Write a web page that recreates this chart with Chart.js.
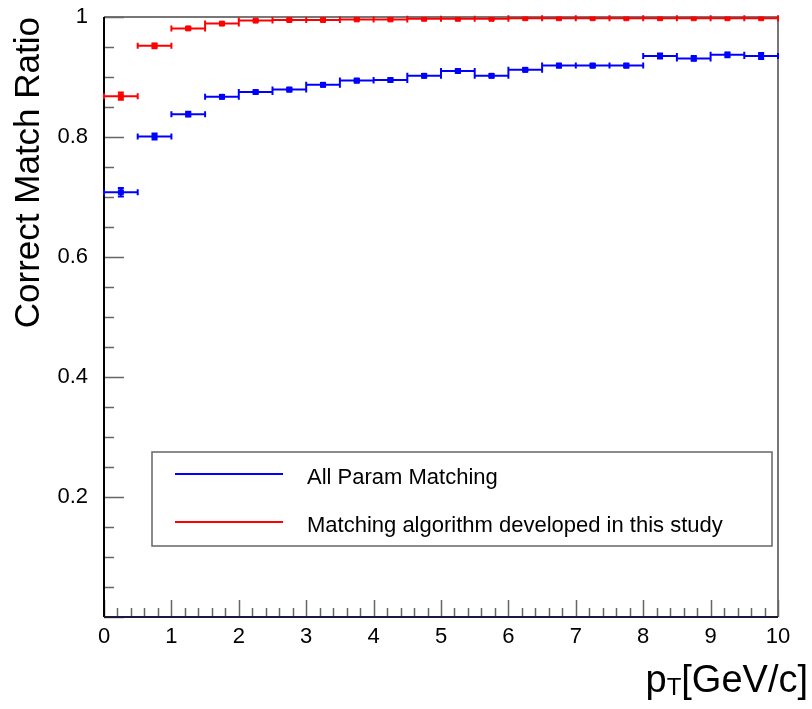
<!DOCTYPE html>
<html>
<head>
<meta charset="utf-8">
<script src="https://cdn.jsdelivr.net/npm/chart.js@4"></script>
<style>
  html, body { margin: 0; padding: 0; background: #fff; }
  canvas { display: block; }
</style>
</head>
<body>
<canvas id="c" width="812" height="709"></canvas>
<script>

// pT bins, GeV/c
const binEdges = [0, 0.5, 1, 1.5, 2, 2.5, 3, 3.5, 4, 4.5, 5, 5.5, 6, 6.5, 7, 7.5, 8, 8.5, 9, 9.5, 10];

const allParamRatio = [0.708, 0.801, 0.838, 0.867, 0.875, 0.879, 0.887, 0.894, 0.895, 0.902,
                       0.910, 0.902, 0.912, 0.919, 0.919, 0.919, 0.935, 0.931, 0.937, 0.935];
const allParamErr   = [0.007, 0.005, 0.004, 0.003, 0.003, 0.003, 0.003, 0.003, 0.003, 0.003,
                       0.003, 0.003, 0.003, 0.003, 0.003, 0.003, 0.004, 0.004, 0.004, 0.005];

const studyRatio = [0.868, 0.952, 0.981, 0.989, 0.994, 0.995, 0.995, 0.996, 0.996, 0.997,
                    0.997, 0.997, 0.998, 0.998, 0.998, 0.998, 0.998, 0.998, 0.998, 0.998];
const studyErr   = [0.006, 0.004, 0.002, 0.002, 0.001, 0.001, 0.001, 0.001, 0.001, 0.001,
                    0.001, 0.001, 0.001, 0.001, 0.001, 0.001, 0.001, 0.001, 0.001, 0.001];

const seriesLabels = ['All Param Matching', 'Matching algorithm developed in this study'];

const xTicks = [0, 1, 2, 3, 4, 5, 6, 7, 8, 9, 10];
const yTicks = [0, 0.2, 0.4, 0.6, 0.8, 1];

const FONT = "'Liberation Sans', Arial, Helvetica, sans-serif";


function binPoints(values){
    let pts = [];
    for(let i=0; i<values.length; i++){
        pts.push({x: (binEdges[i] + binEdges[i+1]) / 2, y: values[i]});
    }
    return pts;
}


// ROOT-like frame, inward ticks, error bars and legend
const rootStyle = {
    id: 'rootStyle',

    beforeDatasetsDraw(chart){
        const {ctx, chartArea: a, scales: {x, y}} = chart;
        ctx.save();

        // top + right frame
        ctx.strokeStyle = '#777';
        ctx.lineWidth = 2;
        ctx.beginPath();
        ctx.moveTo(a.left, a.top);
        ctx.lineTo(a.right, a.top);
        ctx.lineTo(a.right, a.bottom);
        ctx.stroke();

        // x ticks (every 0.2, major every 1)
        ctx.strokeStyle = '#666';
        ctx.lineWidth = 1.5;
        ctx.beginPath();
        for(let k=0; k<=50; k++){
            let v = x.min + k * 0.2;
            let px = Math.round(x.getPixelForValue(v)) + 0.5;
            let len = (k % 5 === 0) ? 17 : 9;
            ctx.moveTo(px, a.bottom);
            ctx.lineTo(px, a.bottom - len);
        }
        // y ticks (every 0.05, major every 0.2)
        for(let k=0; k<=20; k++){
            let v = y.min + k * 0.05;
            let py = Math.round(y.getPixelForValue(v)) + 0.5;
            let len = (k % 4 === 0) ? 20 : 10;
            ctx.moveTo(a.left, py);
            ctx.lineTo(a.left + len, py);
        }
        ctx.stroke();

        // left + bottom axis
        ctx.lineWidth = 2;
        ctx.strokeStyle = '#000';
        ctx.beginPath();
        ctx.moveTo(a.left, a.top);
        ctx.lineTo(a.left, a.bottom);
        ctx.stroke();
        ctx.strokeStyle = '#1a1a3a';
        ctx.beginPath();
        ctx.moveTo(a.left, a.bottom);
        ctx.lineTo(a.right, a.bottom);
        ctx.stroke();

        // error bars
        chart.data.datasets.forEach(ds => {
            ctx.strokeStyle = ds.borderColor;
            ctx.lineWidth = 2;
            ctx.beginPath();
            for(let i=0; i<ds.data.length; i++){
                let x0 = x.getPixelForValue(binEdges[i]);
                let x1 = x.getPixelForValue(binEdges[i+1]);
                let xc = x.getPixelForValue(ds.data[i].x);
                let yc = y.getPixelForValue(ds.data[i].y);
                let yLo = y.getPixelForValue(ds.data[i].y - ds.errors[i]);
                let yHi = y.getPixelForValue(ds.data[i].y + ds.errors[i]);
                ctx.moveTo(x0, yc); ctx.lineTo(x1, yc);
                ctx.moveTo(x0, yc - 3); ctx.lineTo(x0, yc + 3);
                ctx.moveTo(x1, yc - 3); ctx.lineTo(x1, yc + 3);
                ctx.moveTo(xc, yLo); ctx.lineTo(xc, yHi);
                ctx.moveTo(xc - 3, yLo); ctx.lineTo(xc + 3, yLo);
                ctx.moveTo(xc - 3, yHi); ctx.lineTo(xc + 3, yHi);
            }
            ctx.stroke();
        });

        ctx.restore();
    },

    afterDraw(chart){
        const {ctx, chartArea: a} = chart;
        ctx.save();

        // legend box
        let bx = a.left + 48, by = 452, bw = 620, bh = 94;
        ctx.strokeStyle = '#666';
        ctx.lineWidth = 1.5;
        ctx.strokeRect(bx, by, bw, bh);
        ctx.font = '22px ' + FONT;
        ctx.fillStyle = '#000';
        ctx.textBaseline = 'alphabetic';
        chart.data.datasets.forEach((ds, i) => {
            let ly = by + 22 + i * 48;
            ctx.strokeStyle = ds.borderColor;
            ctx.lineWidth = 2;
            ctx.beginPath();
            ctx.moveTo(bx + 23, ly);
            ctx.lineTo(bx + 131, ly);
            ctx.stroke();
            ctx.fillText(ds.label, bx + 155, ly + 10);
        });

        // x axis title p_T[GeV/c]
        let big = '38px ' + FONT, small = '24px ' + FONT;
        ctx.font = big;
        let wp = ctx.measureText('p').width;
        let wRest = ctx.measureText('[GeV/c]').width;
        ctx.font = small;
        let wT = ctx.measureText('T').width;
        let tx = 808 - (wp + wT + wRest);
        let base = 692;
        ctx.font = big;
        ctx.fillText('p', tx, base);
        ctx.font = small;
        ctx.fillText('T', tx + wp, base + 3);
        ctx.font = big;
        ctx.fillText('[GeV/c]', tx + wp + wT, base);

        ctx.restore();
    }
};


let config = {
        type: 'scatter',
        data: {
            datasets: [{
                label: seriesLabels[0],
                data: binPoints(allParamRatio),
                errors: allParamErr,
                borderColor: '#0000ff',
                backgroundColor: '#0000ff',
                pointStyle: 'rect',
                pointRadius: 3.5,
                borderWidth: 1
            }, {
                label: seriesLabels[1],
                data: binPoints(studyRatio),
                errors: studyErr,
                borderColor: '#ff0000',
                backgroundColor: '#ff0000',
                pointStyle: 'rect',
                pointRadius: 3.5,
                borderWidth: 1
            }]
        },
        options: {
            responsive: false,
            animation: false,
            devicePixelRatio: 1,
            layout: {
                padding: {top: 17, right: 34, left: 0, bottom: 0}
            },
            plugins: {
                legend: {display: false},
                tooltip: {enabled: false}
            },
            scales: {
                x: {
                    type: 'linear',
                    min: 0,
                    max: 10,
                    afterBuildTicks: s => { s.ticks = xTicks.map(v => ({value: v})); },
                    afterFit: s => { s.height = 92; },
                    grid: {display: false, drawTicks: false},
                    border: {display: false},
                    ticks: {
                        color: '#000',
                        padding: 7,
                        maxRotation: 0,
                        font: {family: FONT, size: 22}
                    }
                },
                y: {
                    min: 0,
                    max: 1,
                    afterBuildTicks: s => { s.ticks = yTicks.map(v => ({value: v})); },
                    afterFit: s => { s.width = 104; s.paddingTop = 0; s.paddingBottom = 0; },
                    grid: {display: false, drawTicks: false},
                    border: {display: false},
                    ticks: {
                        color: '#000',
                        padding: 16,
                        font: {family: FONT, size: 22},
                        callback: v => v === 0 ? '' : String(v)
                    },
                    title: {
                        display: true,
                        text: 'Correct Match Ratio',
                        align: 'end',
                        color: '#000',
                        font: {family: FONT, size: 35},
                        padding: {top: 8, bottom: 0}
                    }
                }
            }
        },
        plugins: [rootStyle]
    }

new Chart(document.getElementById('c'), config);

</script>
</body>
</html>
